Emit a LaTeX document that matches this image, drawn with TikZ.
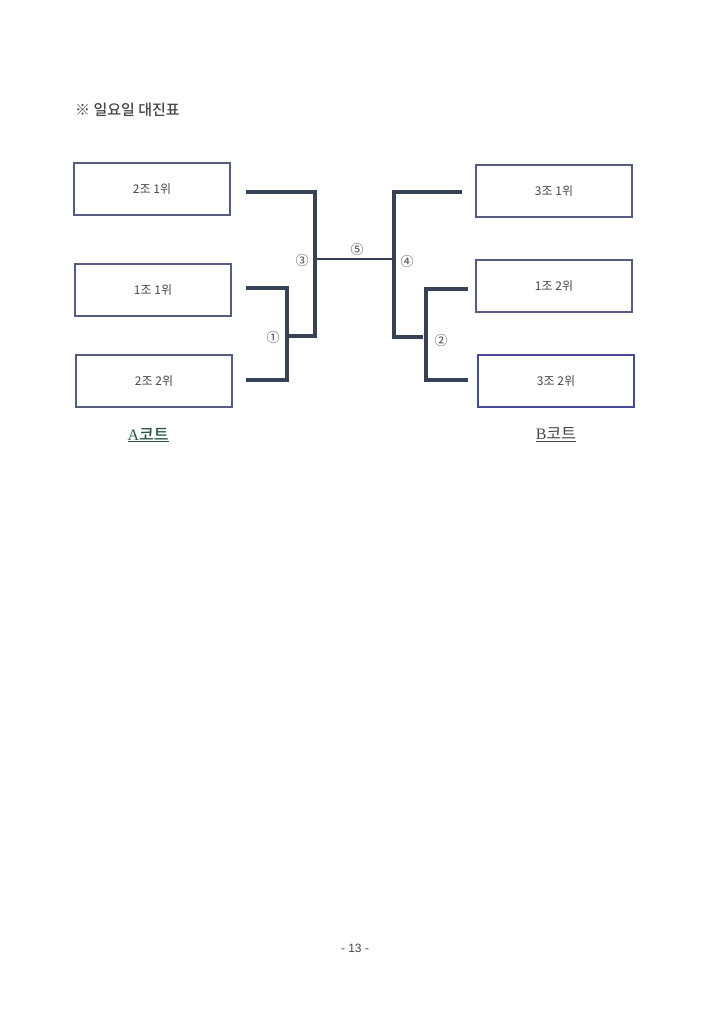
\documentclass[tikz,border=0pt]{standalone}
\usepackage{fontspec}
\setmainfont{Liberation Serif}
\setsansfont{Liberation Sans}
\newfontfamily\kr{Noto Sans CJK KR}
\newfontfamily\krb{Noto Sans CJK KR Medium}
\begin{document}
\begin{tikzpicture}[x=1pt,y=-1pt,
  team/.style={draw=boxc, line width=1.1pt, minimum width=156pt, minimum height=52pt, font=\kr\fontsize{12}{14}\selectfont, text=txt, inner sep=0pt},
  brk/.style={draw=linec, line width=3.4pt, line cap=rect},
  mid/.style={draw=linec, line width=2.2pt},
  num/.style={font=\kr\fontsize{13}{14}\selectfont, text=txt, inner sep=0pt},
  court/.style={font=\fontsize{16}{18}\selectfont, inner sep=0pt}]
\definecolor{boxc}{RGB}{85,92,130}
\definecolor{boxd}{RGB}{70,75,150}
\definecolor{linec}{RGB}{55,65,85}
\definecolor{txt}{RGB}{70,70,75}
\definecolor{courtgreen}{RGB}{40,85,75}
\useasboundingbox (0,0) rectangle (724,1024);
\fill[white] (0,0) rectangle (724,1024);
% title
\node[anchor=west, font=\krb\fontsize{15}{17}\selectfont, text=txt, inner sep=0pt] (title) at (75,110) {※ 일요일 대진표};
% boxes
\node[team] (a1) at (152,189) {2조 1위};
\node[team] (a2) at (153,290) {1조 1위};
\node[team] (a3) at (154,381) {2조 2위};
\node[team] (b1) at (554,191) {3조 1위};
\node[team] (b2) at (554,286) {1조 2위};
\node[team, draw=boxd] (b3) at (556,381) {3조 2위};
% coordinates left
\coordinate (la1) at (248,192);
\coordinate (l3t) at (315,192);
\coordinate (l3b) at (315,336);
\coordinate (l1o) at (289,336);
\coordinate (la2) at (248,288);
\coordinate (l1t) at (287,288);
\coordinate (l1b) at (287,380);
\coordinate (la3) at (248,380);
\coordinate (l3m) at (315,259);
% coordinates right
\coordinate (rb1) at (460,192);
\coordinate (r4t) at (394,192);
\coordinate (r4b) at (394,337);
\coordinate (r4o) at (421,337);
\coordinate (r4m) at (394,259);
\coordinate (rb2) at (466,289);
\coordinate (r2t) at (426,289);
\coordinate (r2b) at (426,380);
\coordinate (rb3) at (466,380);
% brackets
\draw[brk] (la1) -- (l3t) -- (l3b) -- (l1o);
\draw[brk] (la2) -- (l1t) -- (l1b) -- (la3);
\draw[brk] (rb1) -- (r4t) -- (r4b) -- (r4o);
\draw[brk] (rb2) -- (r2t) -- (r2b) -- (rb3);
\draw[mid] (l3m) -- (r4m);
% numbers
\node[num] (n3) at (302,261) {③};
\node[num] (n1) at (273,338) {①};
\node[num] (n5) at (357,250) {⑤};
\node[num] (n4) at (407,262) {④};
\node[num] (n2) at (441,341) {②};
% courts
\node[court, text=courtgreen] (ca) at (148,435) {\underline{A{\krb 코트}}};
\node[court, text=txt] (cb) at (556,435) {\underline{B{\kr 코트}}};
% page number
\node[font=\sffamily\fontsize{12}{14}\selectfont, text=txt] (pg) at (355,948) {-\ 13\ -};
\end{tikzpicture}
\end{document}
